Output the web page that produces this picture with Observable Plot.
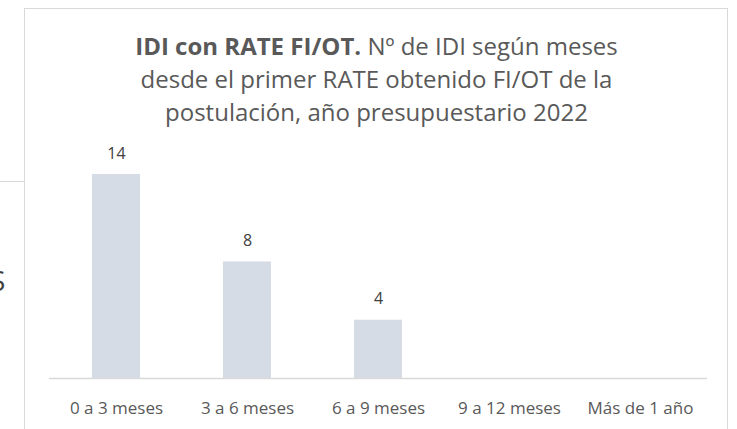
<!DOCTYPE html>
<html><head><meta charset="utf-8">
<script src="https://cdn.jsdelivr.net/npm/d3@7"></script>
<script src="https://cdn.jsdelivr.net/npm/@observablehq/plot@0.6"></script>
<style>
html,body{margin:0;padding:0;background:#fff;overflow:hidden;}
#wrap{position:relative;width:737px;height:429px;font-family:"Open Sans",Lato,sans-serif;}
#box{position:absolute;left:24px;top:8px;width:704px;height:440px;border:1px solid #d9d9d9;box-sizing:border-box;}
#stray{position:absolute;left:0;top:181px;width:24px;height:0;border-top:1px solid #d9d9d9;}
#cut{position:absolute;left:-10px;top:262px;font-size:28px;line-height:36px;color:#404040;}
#title{position:absolute;left:24px;width:705px;top:29px;text-align:center;font-size:24px;line-height:33px;color:#595959;}
#chart{position:absolute;left:0;top:0;}
</style></head><body>
<div id="wrap">
  <div id="stray"></div>
  <div id="cut">S</div>
  <div id="box"></div>
  <div id="chart"></div>
  <div id="title"><b>IDI con RATE FI/OT.</b> Nº de IDI según meses<br>desde el primer RATE obtenido FI/OT de la<br>postulación, año presupuestario 2022</div>
</div>
<script>
const categories = ["0 a 3 meses", "3 a 6 meses", "6 a 9 meses", "9 a 12 meses", "Más de 1 año"];
const values = [14, 8, 4, 0, 0];
const data = categories.map((c, i) => ({cat: c, value: values[i]}));

const chart = Plot.plot({
  width: 737,
  height: 429,
  marginLeft: 49,
  marginRight: 30,
  marginTop: 174,
  marginBottom: 51,
  style: {fontFamily: "'Open Sans', Lato, sans-serif", background: "transparent"},
  x: {domain: categories, paddingInner: 0.635, paddingOuter: 0.3175, label: null},
  y: {domain: [0, 14], axis: null},
  marks: [
    Plot.barY(data, {x: "cat", y: "value", fill: "#d6dce5"}),
    Plot.ruleY([0], {stroke: "#d9d9d9", strokeWidth: 1.5}),
    Plot.text(data.filter(d => d.value > 0), {x: "cat", y: "value", text: d => String(d.value), dy: -21, fontSize: 16, fill: "#404040"}),
    Plot.axisX({tickSize: 0, tickPadding: 23, fontSize: 17, fill: "#595959", label: null})
  ]
});
document.getElementById("chart").appendChild(chart);
</script>
</body></html>
